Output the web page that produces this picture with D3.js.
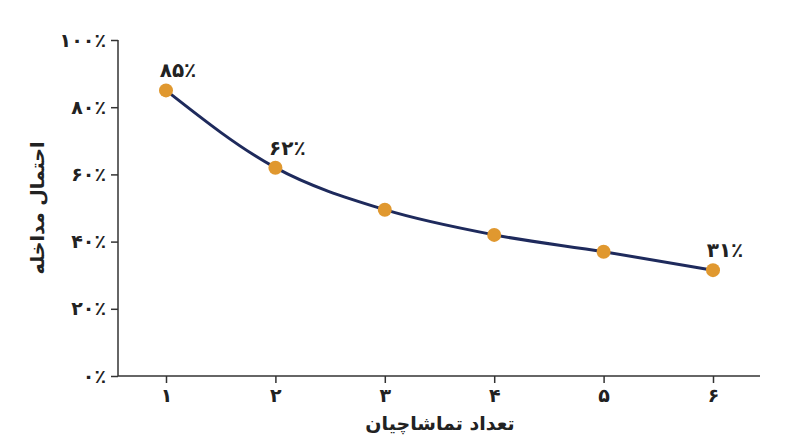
<!DOCTYPE html>
<html><head><meta charset="utf-8">
<script src="https://cdn.jsdelivr.net/npm/d3@7"></script>
<style>body{margin:0;background:#fff}text{font-family:"DejaVu Sans",sans-serif;font-weight:bold;fill:#222}</style>
</head><body><svg width="800" height="447"></svg>
<script>
const xs=[1,2,3,4,5,6];
const xLabels=["۱","۲","۳","۴","۵","۶"];
const vals=[85,62,49.5,42,37,31.5];
const pointLabels=["۸۵٪","۶۲٪",null,null,null,"۳۱٪"];
const yTicks=[0,20,40,60,80,100];
const yTickLabels=["۰٪","۲۰٪","۴۰٪","۶۰٪","۸۰٪","۱۰۰٪"];
const svg=d3.select("svg");
const x=d3.scaleLinear().domain([1,6]).range([166,713]);
const y=d3.scaleLinear().domain([0,100]).range([376,40]);
svg.append("line").attr("x1",118).attr("x2",760).attr("y1",376).attr("y2",376).attr("stroke","#333").attr("stroke-width",1.5);
svg.append("line").attr("x1",118).attr("x2",118).attr("y1",40).attr("y2",376).attr("stroke","#333").attr("stroke-width",1.5);
const yg=svg.append("g").attr("transform","translate(118,0)").call(d3.axisLeft(y).tickValues(yTicks).tickSize(7).tickPadding(5).tickFormat((d,i)=>yTickLabels[i]));
yg.select(".domain").remove();
yg.selectAll("line").attr("stroke","#333").attr("stroke-width",1.5);
yg.selectAll("text").style("font-size","19px").attr("fill","#222");
const xg=svg.append("g").attr("transform","translate(0,376)").call(d3.axisBottom(x).tickValues(xs).tickSize(7).tickPadding(6).tickFormat((d,i)=>xLabels[i]));
xg.select(".domain").remove();
xg.selectAll("line").attr("stroke","#333").attr("stroke-width",1.5);
xg.selectAll("text").style("font-size","19px").attr("fill","#222");
const data=xs.map((d,i)=>({x:d,v:vals[i],l:pointLabels[i]}));
svg.append("path").datum(data).attr("fill","none").attr("stroke","#1e2a5c").attr("stroke-width",3)
 .attr("d",d3.line().x(d=>x(d.x)).y(d=>y(d.v)).curve(d3.curveMonotoneX));
svg.selectAll("circle").data(data).join("circle").attr("cx",d=>x(d.x)).attr("cy",d=>y(d.v)).attr("r",7).attr("fill","#e0982f");
svg.selectAll(".pl").data(data.filter(d=>d.l)).join("text").attr("x",d=>x(d.x)+12).attr("y",d=>y(d.v)-13)
 .attr("text-anchor","middle").style("font-size","20px").text(d=>d.l);
svg.append("text").attr("x",440).attr("y",430).attr("text-anchor","middle").style("font-size","19px").text("تعداد تماشاچیان");
svg.append("text").attr("transform","translate(44,208) rotate(-90)").attr("text-anchor","middle").style("font-size","19px").text("احتمال مداخله");
</script></body></html>
